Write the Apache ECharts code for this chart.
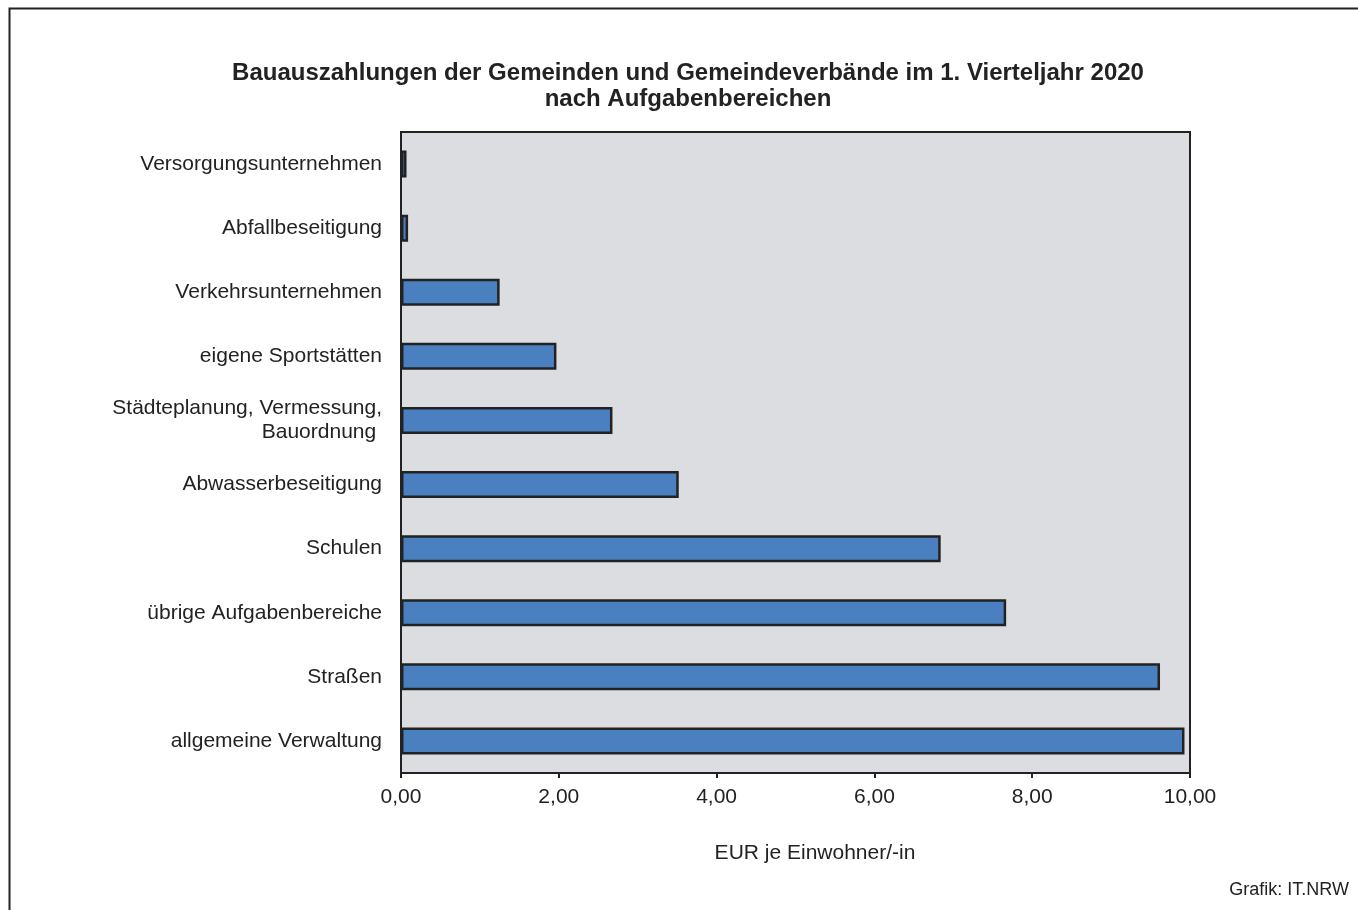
<!DOCTYPE html>
<html>
<head>
<meta charset="utf-8">
<script src="https://cdn.jsdelivr.net/npm/echarts@6/dist/echarts.min.js"></script>
<style>
  html, body { margin: 0; padding: 0; background: #fff; }
  #chart { width: 1358px; height: 910px; }
</style>
</head>
<body>
<div id="chart"></div>
<script>
// categories from top to bottom
const categories = [
    'Versorgungsunternehmen',
    'Abfallbeseitigung',
    'Verkehrsunternehmen',
    'eigene Sportstätten',
    'Städteplanung, Vermessung,\nBauordnung ',
    'Abwasserbeseitigung',
    'Schulen',
    'übrige Aufgabenbereiche',
    'Straßen',
    'allgemeine Verwaltung'
];
const values = [0.07, 0.09, 1.25, 1.97, 2.68, 3.52, 6.84, 7.67, 9.62, 9.93];
const xTicks = [0, 2, 4, 6, 8, 10];

const fmt = v => v.toFixed(2).replace('.', ',');
const font = '"Liberation Sans", Arial, sans-serif';

const chart = echarts.init(document.getElementById('chart'), null, { renderer: 'canvas' });

chart.setOption({
    backgroundColor: '#fff',
    animation: false,
    textStyle: { fontFamily: font },
    title: {
        text: 'Bauauszahlungen der Gemeinden und Gemeindeverbände im 1. Vierteljahr 2020\nnach Aufgabenbereichen',
        left: 683, top: 55, textAlign: 'center',
        textStyle: { fontSize: 24, fontWeight: 'bold', color: '#222', lineHeight: 26, fontFamily: font }
    },
    graphic: [
        {
            type: 'rect', left: 7, top: 6,
            shape: { width: 1380, height: 940 },
            style: { fill: 'none', stroke: '#222', lineWidth: 2 }
        },
        {
            type: 'text', right: 9, top: 881,
            style: { text: 'Grafik: IT.NRW', fontSize: 18, fill: '#222', fontFamily: font }
        }
    ],
    grid: {
        left: 401, top: 132, right: 168, bottom: 137,
        show: true, backgroundColor: '#dcdde0', borderColor: '#222', borderWidth: 2
    },
    xAxis: {
        type: 'value', min: xTicks[0], max: xTicks[xTicks.length - 1], interval: 2,
        name: 'EUR je Einwohner/-in', nameLocation: 'middle', nameGap: 70,
        nameTextStyle: { fontSize: 21, color: '#222', fontFamily: font, padding: [0, 0, 0, 39] },
        axisLine: { show: true, lineStyle: { color: '#222', width: 2 } },
        axisTick: { show: true, length: 5, lineStyle: { color: '#222', width: 2 } },
        axisLabel: { fontSize: 21, color: '#222', margin: 14, formatter: fmt },
        splitLine: { show: false }
    },
    yAxis: {
        type: 'category', data: categories, inverse: true,
        axisLine: { show: true, lineStyle: { color: '#222', width: 2 } },
        axisTick: { show: false },
        axisLabel: { fontSize: 21, color: '#222', margin: 19, lineHeight: 24, align: 'right' }
    },
    series: [{
        type: 'bar',
        data: values,
        barWidth: 27,
        itemStyle: { color: '#4a80c0', borderColor: '#222', borderWidth: 2.5 }
    }]
});
</script>
</body>
</html>
